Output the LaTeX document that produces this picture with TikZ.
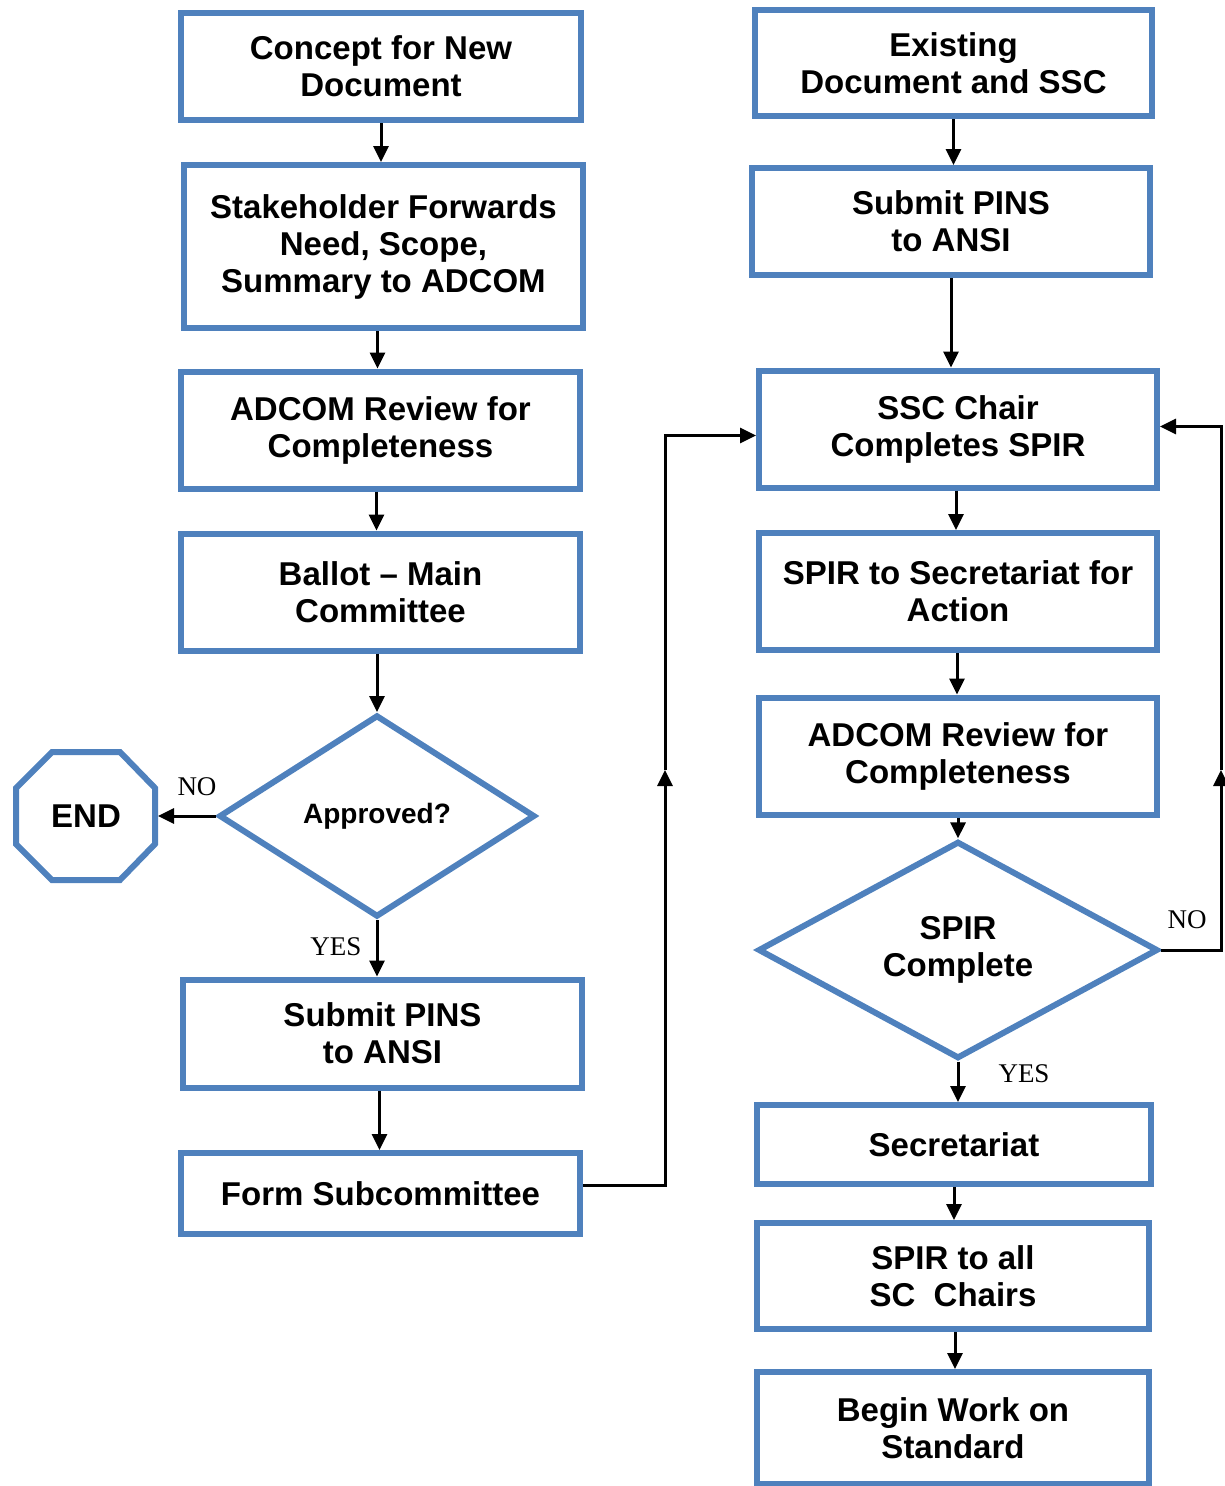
\documentclass[tikz,border=0pt]{standalone}
\usepackage{fontspec}
\setmainfont{Liberation Sans}
\newfontfamily\lblfont{Liberation Serif}
\usetikzlibrary{arrows.meta,shapes.geometric}
\definecolor{boxblue}{RGB}{79,129,189}
\begin{document}
\begin{tikzpicture}[x=1pt,y=-1pt,
 box/.style={draw=boxblue,line width=6pt,align=center,inner sep=0pt,font=\bfseries\fontsize{33}{37}\selectfont},
 dec/.style={box,diamond},
 arr/.style={line width=3pt,-{Triangle[length=16pt,width=15pt]}},
 lbl/.style={font=\lblfont\fontsize{27}{30}\selectfont,inner sep=0pt}]
\useasboundingbox (0,0) rectangle (1224,1486);
% left column
\node[box,minimum width=400pt,minimum height=107pt] (c1) at (381,66.5) {Concept for New\\Document};
\node[box,minimum width=399pt,minimum height=163pt] (c2) at (383.5,246.5) {Stakeholder Forwards\\Need, Scope,\\Summary to ADCOM};
\node[box,minimum width=399pt,minimum height=117pt] (c3) at (380.5,430) {ADCOM Review for\\Completeness};
\node[box,minimum width=399pt,minimum height=117pt] (c4) at (380.5,592) {Ballot – Main\\Committee};
\node[dec,minimum width=316pt,minimum height=202pt,font=\bfseries\fontsize{28}{32}\selectfont] (d1) at (377,816) {Approved?};
\node[box,draw=none] (end) at (86,816) {END};
\draw[draw=boxblue,line width=6pt] (52,752) -- (120,752) -- (155,788) -- (155,844) -- (120,880) -- (52,880) -- (16,844) -- (16,788) -- cycle;
\coordinate (endE) at (158,816);
\node[box,minimum width=399pt,minimum height=108pt] (c5) at (382.5,1033.5) {Submit PINS\\to ANSI};
\node[box,minimum width=399pt,minimum height=81pt] (c6) at (380.5,1193.5) {Form Subcommittee};
% right column
\node[box,minimum width=397pt,minimum height=106pt] (r1) at (953.5,63) {Existing\\Document and SSC};
\node[box,minimum width=398pt,minimum height=107pt] (r2) at (951,221.5) {Submit PINS\\to ANSI};
\node[box,minimum width=398pt,minimum height=117pt] (r3) at (958,429) {SSC Chair\\Completes SPIR};
\node[box,minimum width=398pt,minimum height=117pt] (r4) at (958,591.5) {SPIR to Secretariat for\\Action};
\node[box,minimum width=398pt,minimum height=117pt] (r5) at (958,756) {ADCOM Review for\\Completeness};
\node[dec,minimum width=400pt,minimum height=200pt] (d2) at (958,950) {SPIR\\Complete};
\node[box,minimum width=394pt,minimum height=79pt] (r6) at (954,1144.5) {Secretariat};
\node[box,minimum width=392pt,minimum height=106pt] (r7) at (953,1276) {SPIR to all\\SC\ \ Chairs};
\node[box,minimum width=392pt,minimum height=112pt] (r8) at (953,1428) {Begin Work on\\Standard};
% left connectors
\draw[arr] (c1.south) -- (c1.south |- c2.north);
\draw[arr] ([xshift=-6pt]c2.south) -- ([xshift=-6pt]c2.south |- c3.north);
\draw[arr] ([xshift=-4pt]c3.south) -- ([xshift=-4pt]c3.south |- c4.north);
\draw[arr] (c4.south -| d1.north) -- (d1.north);
\draw[arr] (d1.west) -- (endE);
\draw[arr] (d1.south) -- (d1.south |- c5.north);
\draw[arr] ([xshift=-3pt]c5.south) -- ([xshift=-3pt]c5.south |- c6.north);
\coordinate (lmid) at (665,770);
\draw[arr] ([yshift=8pt]c6.east) -| (lmid);
\draw[arr] (lmid) |- ([yshift=-6.5pt]r3.west);
% right connectors
\draw[arr] (r1.south) -- (r1.south |- r2.north);
\draw[arr] (r2.south) -- (r2.south |- r3.north);
\draw[arr] ([xshift=-2pt]r3.south) -- ([xshift=-2pt]r3.south |- r4.north);
\draw[arr] ([xshift=-1pt]r4.south) -- ([xshift=-1pt]r4.south |- r5.north);
\draw[arr] (r5.south) -- (d2.north);
\draw[arr] (d2.south) -- (d2.south |- r6.north);
\draw[arr] (r6.south) -- (r6.south |- r7.north);
\draw[arr] ([xshift=2pt]r7.south) -- ([xshift=2pt]r7.south |- r8.north);
\coordinate (rmid) at (1221,770);
\draw[arr] (d2.east) -| (rmid);
\draw[arr] (rmid) |- ([yshift=2.5pt]r3.east);
% labels
\node[lbl] (no1) at (197,787) {NO};
\node[lbl] (yes1) at (336,947) {YES};
\node[lbl] (no2) at (1187,920) {NO};
\node[lbl] (yes2) at (1024,1074) {YES};
\end{tikzpicture}
\end{document}
